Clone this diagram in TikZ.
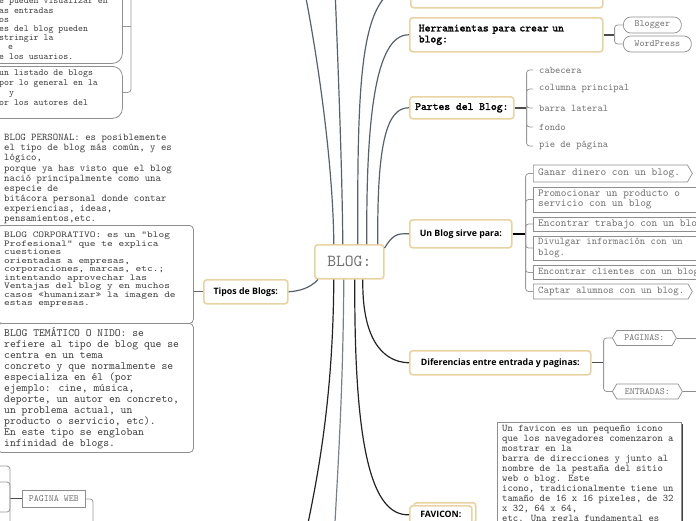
\documentclass[tikz,border=0pt]{standalone}
\usepackage{fontspec}
\newfontfamily\sansf{Open Sans}
\newfontfamily\monof{lmmono10-regular.otf}
\newfontfamily\monobf{lmmono10-regular.otf}[FakeBold=1.6]
\newfontfamily\monowide{lmmono10-regular.otf}[FakeStretch=1.21]
\usetikzlibrary{shapes.symbols,shadows}

\definecolor{tanline}{HTML}{E8D3A3}
\definecolor{slate}{HTML}{56616B}
\definecolor{leafgray}{HTML}{707070}
\definecolor{boxgray}{HTML}{8E8E8E}
\definecolor{notegray}{HTML}{3C3C3C}
\definecolor{darkline}{HTML}{232323}

\newcommand\sz[2]{\fontsize{#1pt}{#2pt}\selectfont}
\newcommand\topstr{\rule{0pt}{10pt}}

\tikzset{
  mainbox/.style={draw=tanline, line width=1.6pt, rounded corners=3pt, fill=white, anchor=north west, inner sep=0pt},
  monobold/.style={font={\monobf\sz{11.1}{11}}},
  sansbold/.style={font={\sansf\bfseries\sz{8.8}{10}}},
  textbox/.style={draw=boxgray, line width=0.8pt, fill=white, anchor=north west, inner sep=0pt},
  plain/.style={anchor=north west, inner sep=0pt, align=left, text=notegray},
  leaftext/.style={anchor=west, inner xsep=6pt, font={\monof\sz{10.1}{10}}, text=leafgray},
  leafbox/.style={draw=boxgray, line width=0.7pt, fill=white, anchor=west, inner sep=0pt},
  leaflabel/.style={anchor=west, inner sep=0pt, align=left, text=leafgray},
  pillbox/.style={draw=boxgray, line width=0.7pt, rounded corners=7.5pt, anchor=west, minimum height=16pt, inner xsep=8pt, font={\monof\sz{9.7}{10}}, text=leafgray},
  hexbox/.style={draw=boxgray, line width=0.7pt, shape=signal, signal to=east and west, signal pointer angle=120, anchor=west, minimum height=15pt, inner xsep=3pt, font={\monof\sz{9.5}{10}}, text=leafgray},
  branch/.style={line width=1.2pt, draw=slate},
  downbranch/.style={line width=1.2pt, draw=darkline},
  stub/.style={line width=1.4pt, draw=black!70},
  bracket/.style={line width=0.8pt, draw=black!40, rounded corners=3pt},
}

\begin{document}
\begin{tikzpicture}[x=1pt, y=-1pt]
    \useasboundingbox (0,0) rectangle (696,520);

    \node[mainbox, minimum width=69pt, minimum height=34pt, font={\monof\sz{16.8}{18}}, text=leafgray] (blog) at (314,244) {BLOG:};

    % left side
    \node[textbox, rounded corners=10pt, minimum width=134pt, minimum height=74pt] (tl1) at (-12,-11) {};
    \node[plain, font={\monof\sz{9.4}{9.2}}] (tl1txt) at (-1,-6.3) {\topstr e pueden visualizar en\\as entradas\\os\\es del blog pueden\\stringir la\\\hspace*{9pt}e\\e los usuarios.};
    \node[textbox, rounded corners=10pt, minimum width=134pt, minimum height=52pt] (tl2) at (-12,66) {};
    \node[plain, font={\monof\sz{9.4}{9.9}}] (tl2txt) at (-1,65.7) {\topstr un listado de blogs\\por lo general en la\\\hspace*{10pt}y\\or los autores del};
    \coordinate (tlup) at (131,-30);
    \draw[bracket] (tlup) |- (tl2.east);
    \draw[bracket] (tl1.east) -- (tl1.east -| tlup);

    \node[plain, font={\monof\sz{10.3}{10.1}}] (personal) at (4,130.5) {\topstr BLOG PERSONAL: es posiblemente\\el tipo de blog más común, y es\\lógico,\\porque ya has visto que el blog\\nació principalmente como una\\especie de\\bitácora personal donde contar\\experiencias, ideas,\\pensamientos,etc.};

    \node[textbox, rounded corners=4pt, minimum width=196pt, minimum height=98pt] (corp) at (-3,225) {};
    \node[plain, font={\monowide\sz{9}{8.5}}] (corptxt) at (4,227.5) {\topstr BLOG CORPORATIVO: es un "blog\\Profesional" que te explica\\cuestiones\\orientadas a empresas,\\corporaciones, marcas, etc.;\\intentando aprovechar las\\Ventajas del blog y en muchos\\casos «humanizar» la imagen de\\estas empresas.};

    \node[textbox, rounded corners=4pt, minimum width=196pt, minimum height=129pt] (tematico) at (-3,323) {};
    \node[plain, font={\monof\sz{11.1}{11}}] (tematxt) at (4,326.5) {\topstr BLOG TEMÁTICO O NIDO: se\\refiere al tipo de blog que se\\centra en un tema\\concreto y que normalmente se\\especializa en él (por\\ejemplo: cine, música,\\deporte, un autor en concreto,\\un problema actual, un\\producto o servicio, etc).\\En este tipo se engloban\\infinidad de blogs.};

    \node[mainbox, sansbold, minimum width=84pt, minimum height=24pt] (tipos) at (203,279) {Tipos de Blogs:};
    \draw[line width=1pt, draw=black!60] (tipos.west) -- (tipos.west -| corp.east);

    \node[textbox, minimum width=63pt, minimum height=17pt, font={\monof\sz{9.5}{10}}, text=leafgray] (pweb) at (22,490) {PAGINA WEB};
    \coordinate (pwup) at (93,540);
    \draw[bracket] (pweb.east) -| (pwup);
    \draw[stub, line width=1pt] (pweb.west) -- ++(-12,0) coordinate (pwb);
    \foreach \n/\yy in {pw1/466, pw2/482, pw3/512, pw4/528} {
        \coordinate (\n) at (-10,\yy);
        \draw[bracket] (pwb) |- (\n);
    }

    % right side
    \node[mainbox, minimum width=192pt, minimum height=47pt] (topbox) at (410,-40) {};
    \node[mainbox, monobold, minimum height=34pt, text width=175pt, inner xsep=9pt, align=left] (herram) at (409,17) {Herramientas para crear un\\blog:};
    \node[mainbox, monobold, minimum width=104pt, minimum height=22pt] (partes) at (409,96) {Partes del Blog:};
    \node[mainbox, sansbold, minimum width=102pt, minimum height=28pt] (sirve) at (409,219) {Un Blog sirve para:};
    \node[mainbox, sansbold, minimum width=181pt, minimum height=24pt] (difer) at (409,350) {Diferencias entre entrada y paginas:};
    \node[mainbox, minimum width=62pt, minimum height=20pt] (favback) at (413,502) {};
    \node[mainbox, sansbold, minimum width=62pt, minimum height=18pt] (favicon) at (409,505) {FAVICON:};

    \node[pillbox, minimum width=58pt] (blogger) at (623,25) {Blogger};
    \node[pillbox, minimum width=68pt] (wordpress) at (623,44) {WordPress};
    \draw[stub] (herram.east) -- ++(11,0) coordinate (hb);
    \draw[bracket] (hb) |- (blogger.west);
    \draw[bracket] (hb) |- (wordpress.west);

    \node[leaftext] (cab) at (533,70) {cabecera};
    \node[leaftext] (col) at (533,89) {columna principal};
    \node[leaftext] (bar) at (533,108) {barra lateral};
    \node[leaftext] (fon) at (533,127) {fondo};
    \node[leaftext] (pie) at (533,146) {pie de página};
    \draw[stub] (partes.east) -- ++(12,0) coordinate (pb);
    \foreach \n in {cab,col,bar,fon,pie}
        \draw[bracket] (pb) |- (\n.west);

    \node[leafbox, shape=signal, signal to=east, signal pointer angle=120, minimum width=159pt, minimum height=17pt] (ganar) at (533,173.5) {};
    \node[leafbox, minimum width=180pt, minimum height=25pt] (promo) at (533,199.5) {};
    \node[leafbox, minimum width=180pt, minimum height=14pt] (trabajo) at (533,224) {};
    \node[leafbox, minimum width=180pt, minimum height=24pt] (divulgar) at (533,248) {};
    \node[leafbox, minimum width=180pt, minimum height=13.5pt] (clientes) at (533,272.5) {};
    \node[leafbox, shape=signal, signal to=east, signal pointer angle=120, minimum width=159pt, minimum height=15pt] (captar) at (533,291.5) {};
    \node[leaflabel, font={\monof\sz{10.8}{10.5}}] (ganartxt) at (538,173.5) {Ganar dinero con un blog.};
    \node[leaflabel, font={\monof\sz{10.8}{10.5}}] (promotxt) at (538,199.5) {Promocionar un producto o\\servicio con un blog};
    \node[leaflabel, font={\monof\sz{10.8}{10.5}}] (trabajotxt) at (538,224) {Encontrar trabajo con un blog.};
    \node[leaflabel, font={\monof\sz{10.2}{10.5}}] (divulgartxt) at (538,248) {Divulgar información con un\\blog.};
    \node[leaflabel, font={\monof\sz{10.2}{10}}] (clientestxt) at (538,272.5) {Encontrar clientes con un blog.};
    \node[leaflabel, font={\monof\sz{10.3}{10}}] (captartxt) at (538,291.5) {Captar alumnos con un blog.};
    \draw[stub, line width=1.8pt, draw=black] (sirve.east) -- ++(13,0) coordinate (sb);
    \foreach \n in {ganar,promo,trabajo,divulgar,clientes,captar}
        \draw[bracket] (sb) |- (\n.west);

    \node[hexbox, minimum width=64pt] (paginas) at (612,338) {PAGINAS:};
    \node[hexbox, minimum width=70pt] (entradas) at (612,391.5) {ENTRADAS:};
    \draw[stub, line width=1pt] (difer.east) -- ++(12,0) coordinate (db);
    \draw[bracket] (db) |- (paginas.west);
    \draw[bracket] (db) |- (entradas.west);
    \coordinate (pagout) at (700,338);
    \coordinate (entout) at (700,391.5);
    \draw[line width=1pt, draw=black!45] (paginas.east) -- (pagout);
    \draw[line width=1pt, draw=black!45] (entradas.east) -- (entout);

    \node[anchor=north west, draw=boxgray, fill=white, line width=0.8pt, drop shadow={shadow xshift=2pt, shadow yshift=-2pt, opacity=1, fill=black!75}, minimum width=184pt, minimum height=120pt, inner sep=0pt] (favnote) at (497,422) {};
    \node[plain, font={\monof\sz{10.2}{10}}] (favtxt) at (502,421.5) {\topstr Un favicon es un pequeño icono\\que los navegadores comenzaron a\\mostrar en la\\barra de direcciones y junto al\\nombre de la pestaña del sitio\\web o blog. Este\\icono, tradicionalmente tiene un\\tamaño de 16 x 16 pixeles, de 32\\x 32, 64 x 64,\\etc. Una regla fundamental es};

    % branches from the centre
    \coordinate (up1) at (298,-40);
    \coordinate (up2) at (334,-40);
    \coordinate (dn1) at (300,560);
    \coordinate (dn2) at (333,560);
    \draw[branch] ([xshift=-15.5pt]blog.north) .. controls (333,150) and (312,20) .. (up1);
    \draw[branch] ([xshift=-6.5pt]blog.north) .. controls (342,150) and (336,20) .. (up2);
    \draw[branch] ([xshift=8.5pt]blog.north) .. controls (357,60) and (362,-10) .. (topbox.west);
    \draw[branch] ([xshift=17.5pt]blog.north) .. controls (366,120) and (375,34) .. (herram.west);
    \draw[branch] ([xshift=28.5pt]blog.north) .. controls (377,150) and (385,107) .. (partes.west);
    \draw[branch] ([yshift=-4pt]blog.north east) .. controls (392,236) and (396,233) .. (sirve.west);
    \draw[branch] ([xshift=4pt]blog.south west) .. controls (310,288) and (300,291) .. (tipos.east);
    \draw[downbranch] ([xshift=-15.5pt]blog.south) .. controls (333,400) and (318,480) .. (dn1);
    \draw[branch, draw=slate!80] ([xshift=-5.5pt]blog.south) .. controls (343,400) and (337,480) .. (dn2);
    \draw[downbranch] ([xshift=5.5pt]blog.south) .. controls (354,450) and (372,516) .. (favicon.west);
    \draw[downbranch] ([xshift=13.5pt]blog.south) .. controls (362,335) and (380,362) .. (difer.west);
\end{tikzpicture}
\end{document}
